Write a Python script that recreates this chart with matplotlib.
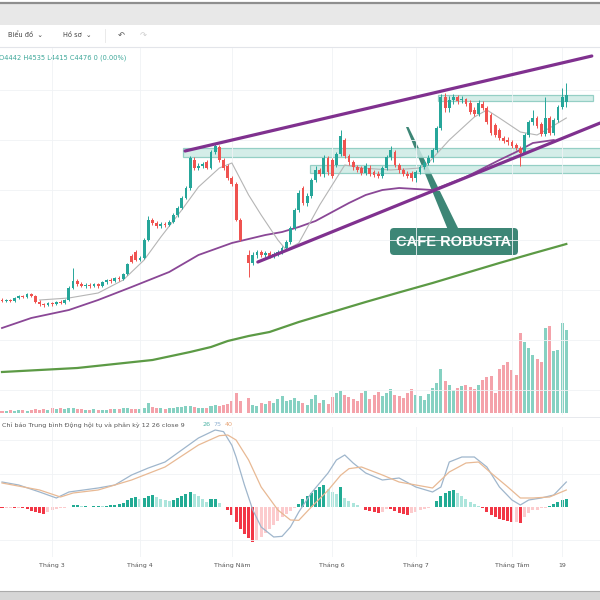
import numpy as np
import matplotlib
matplotlib.use("Agg")
import matplotlib.pyplot as plt
from matplotlib.patches import Rectangle, FancyBboxPatch, Polygon

nan = float("nan")

# daily robusta candles (nan = empty slot)
opens = [3450, 3445, 3450, 3445, 3460, 3470, 3465, 3480, 3470, 3440,
         3430, 3425, 3435, 3430, 3440, 3435, 3450, 3510, 3545, 3530,
         3520, 3525, 3520, 3530, 3520, 3540, 3550, 3545, 3560, 3555,
         3580, 3670, 3690, 3650, 3660, 3750, 3850, 3835, 3820, 3830,
         3825, 3840, 3875, 3910, 3960, 4010, 4150, 4110, 4120, 4140,
         4110, 4190, 4215, 4150, 4120, 4060, 4030, 3850, nan, 3675,
         3635, 3675, 3690, 3675, 3685, 3670, 3680, 3690, 3710, 3740,
         3810, 3900, 4010, 3935, 3970, 4050, 4100, 4080, 4160, 4150,
         4125, 4180, 4250, 4170, 4140, 4115, 4110, 4085, 4110, 4090,
         4080, 4070, 4110, 4165, 4190, 4125, 4100, 4080, 4085, 4060,
         4090, 4115, 4135, 4160, 4200, 4310, 4465, 4410, 4450, 4465,
         4450, 4455, 4435, 4400, 4380, 4430, 4410, 4375, 4325, 4300,
         4260, 4250, 4240, 4225, 4210, 4185, 4275, 4340, 4360, 4330,
         4280, 4360, 4285, 4350, 4415, 4442]
highs = [3460, 3455, 3455, 3465, 3475, 3475, 3485, 3485, 3475, 3450,
         3435, 3440, 3440, 3445, 3450, 3455, 3520, 3610, 3555, 3540,
         3535, 3535, 3535, 3535, 3545, 3555, 3560, 3565, 3570, 3585,
         3635, 3680, 3700, 3670, 3760, 3870, 3860, 3845, 3840, 3840,
         3850, 3885, 3920, 3970, 4020, 4170, 4165, 4135, 4140, 4150,
         4200, 4235, 4225, 4160, 4130, 4070, 4040, 3860, nan, 3700,
         3690, 3700, 3700, 3695, 3695, 3690, 3700, 3720, 3750, 3820,
         3910, 4000, 4020, 3985, 4060, 4120, 4110, 4175, 4170, 4160,
         4190, 4300, 4260, 4180, 4150, 4125, 4120, 4135, 4125, 4100,
         4095, 4120, 4175, 4220, 4200, 4135, 4110, 4095, 4095, 4100,
         4125, 4150, 4175, 4210, 4320, 4480, 4485, 4470, 4480, 4475,
         4470, 4460, 4450, 4415, 4450, 4445, 4420, 4385, 4335, 4310,
         4270, 4265, 4250, 4235, 4220, 4285, 4350, 4400, 4370, 4340,
         4465, 4370, 4360, 4425, 4510, 4535]
lows = [3440, 3440, 3440, 3440, 3455, 3460, 3460, 3465, 3435, 3420,
        3415, 3420, 3420, 3425, 3430, 3430, 3445, 3505, 3520, 3515,
        3510, 3510, 3515, 3510, 3515, 3530, 3535, 3540, 3545, 3550,
        3575, 3635, 3645, 3645, 3655, 3745, 3825, 3810, 3810, 3815,
        3820, 3835, 3865, 3905, 3955, 4000, 4100, 4100, 4110, 4105,
        4105, 4180, 4140, 4100, 4050, 4020, 3845, 3745, nan, 3565,
        3625, 3660, 3665, 3665, 3660, 3660, 3670, 3680, 3700, 3730,
        3800, 3890, 3925, 3920, 3960, 4040, 4070, 4065, 4075, 4060,
        4115, 4170, 4160, 4125, 4100, 4090, 4075, 4075, 4070, 4065,
        4060, 4060, 4100, 4150, 4115, 4085, 4070, 4060, 4045, 4040,
        4080, 4105, 4125, 4140, 4190, 4300, 4390, 4390, 4430, 4430,
        4435, 4420, 4380, 4370, 4370, 4400, 4330, 4275, 4265, 4250,
        4235, 4225, 4210, 4200, 4120, 4180, 4265, 4325, 4310, 4270,
        4270, 4275, 4275, 4340, 4405, 4415]
closes = [3445, 3450, 3445, 3460, 3470, 3465, 3480, 3470, 3440, 3430,
          3425, 3435, 3430, 3440, 3435, 3450, 3510, 3545, 3530, 3520,
          3525, 3520, 3530, 3520, 3540, 3550, 3545, 3560, 3555, 3580,
          3630, 3640, 3650, 3660, 3750, 3850, 3835, 3820, 3830, 3825,
          3840, 3875, 3910, 3960, 4010, 4160, 4110, 4120, 4130, 4110,
          4190, 4220, 4150, 4110, 4060, 4030, 3850, 3750, nan, 3635,
          3675, 3690, 3675, 3685, 3670, 3680, 3690, 3710, 3740, 3810,
          3900, 3985, 3935, 3970, 4050, 4100, 4080, 4160, 4090, 4070,
          4180, 4270, 4170, 4140, 4115, 4100, 4085, 4120, 4080, 4075,
          4070, 4110, 4165, 4200, 4125, 4100, 4080, 4070, 4060, 4090,
          4115, 4135, 4160, 4200, 4310, 4465, 4410, 4450, 4465, 4445,
          4455, 4430, 4390, 4380, 4435, 4410, 4340, 4285, 4275, 4260,
          4245, 4240, 4220, 4210, 4185, 4275, 4340, 4360, 4320, 4280,
          4360, 4285, 4350, 4415, 4465, 4476]
# volume, thousand lots
volumes = [2, 2, 3, 2, 3, 3, 2, 3, 4, 3, 4, 3, 5, 4, 5, 4, 5, 5, 4, 4,
           3, 3, 4, 3, 3, 3, 4, 4, 4, 5, 5, 4, 4, 4, 5, 10, 6, 5, 5, 4,
           5, 5, 6, 6, 7, 7, 6, 5, 5, 5, 7, 8, 7, 8, 9, 12, 20, 12, nan, 15,
           8, 7, 10, 9, 12, 10, 14, 17, 12, 13, 15, 12, 10, 8, 14, 18, 10, 13, 9, 16,
           20, 22, 18, 16, 14, 12, 20, 22, 14, 18, 21, 17, 20, 24, 18, 17, 15, 20, 24, 18,
           17, 13, 19, 25, 30, 44, 32, 28, 23, 25, 27, 28, 26, 24, 28, 33, 36, 37, 20, 44,
           48, 51, 43, 38, 80, 71, 65, 58, 54, 51, 85, 87, 62, 63, 90, 83]
macd_hist = [-3, -1.5, -1.5, -3, -1.5, -3, -6, -12, -15, -18,
             -21, -15, -9, -6, -3, -1.5, 1.5, 6, 6, 3,
             3, 1.5, 3, 4.5, 3, 4.5, 6, 6, 9, 12,
             21, 27, 30, 24, 27, 33, 36, 30, 24, 21,
             18, 21, 27, 33, 39, 45, 39, 33, 24, 15,
             24, 24, 12, 1.5, -9, -24, -45, -66, -81, -93,
             -105, -99, -90, -78, -66, -54, -42, -30, -21, -12,
             -3, 9, 24, 33, 42, 51, 60, 66, 54, 45,
             39, 60, 27, 18, 12, 6, 1.5, -9, -12, -15,
             -18, -15, -4.5, -6, -12, -18, -21, -24, -18, -13.5,
             -9, -6, -3, 1.5, 18, 33, 42, 48, 51, 42,
             33, 24, 15, 9, 3, -1.5, -15, -24, -30, -36,
             -39, -42, -45, -45, -48, -30, -18, -9, -9, -3,
             -1.5, 3, 9, 15, 21, 24]

macd_at = [0, 4, 9, 13, 16, 23, 27, 31, 35, 39, 43, 47, 51, 53, 55, 56, 58, 60, 62, 65,
           67, 69, 71, 74, 78, 80, 82, 84, 87, 91, 95, 99, 103, 105, 107, 110, 113, 116,
           119, 122, 124, 126, 129, 132, 135]
macd_line = [75, 66, 45, 27, 45, 57, 66, 96, 117, 135, 171, 207, 231, 226, 185, 150, 66, -9, -60, -90,
             -88, -60, -15, 42, 102, 141, 156, 132, 102, 81, 87, 60, 45, 60, 135, 150, 150, 120,
             60, 21, 6, 21, 27, 36, 75]
signal_at = [0, 9, 14, 17, 23, 31, 39, 47, 52, 54, 56, 59, 62, 66, 69, 71, 74, 78, 81, 83,
             86, 91, 95, 99, 103, 107, 111, 114, 117, 121, 124, 127, 131, 135]
signal_line = [72, 51, 30, 42, 51, 81, 120, 186, 214, 216, 201, 141, 60, -9, -39, -40, 0, 50, 95, 115,
               120, 96, 75, 66, 57, 105, 132, 135, 102, 60, 27, 27, 30, 51]

# moving averages sampled from the chart
ma_fast_at = [9, 16, 23, 29, 34, 38, 43, 47, 52, 55, 59, 62, 66, 68, 71, 76, 82, 86, 93, 100,
              102, 107, 113, 116, 119, 124, 128, 131, 135]
ma_fast = [3450, 3460, 3485, 3550, 3650, 3765, 3900, 4015, 4110, 4135, 3975, 3875, 3750, 3700, 3735,
           3925, 4125, 4110, 4100, 4110, 4135, 4250, 4365, 4400, 4360, 4290, 4275, 4310, 4360]
ma_mid_at = [0, 7, 16, 23, 31, 40, 47, 55, 63, 67, 71, 75, 79, 83, 87, 91, 95, 103, 111, 119,
             123, 127, 132]
ma_mid = [3310, 3360, 3400, 3450, 3515, 3590, 3675, 3735, 3775, 3790, 3815, 3845, 3890, 3935, 3975,
          4000, 4010, 4000, 4065, 4150, 4190, 4235, 4250]
ma_slow_at = [0, 18, 36, 45, 50, 54, 59, 64, 71, 79, 87, 95, 103, 111, 119, 127, 135]
ma_slow = [3090, 3110, 3150, 3190, 3215, 3245, 3270, 3290, 3340, 3390, 3440, 3488, 3535, 3585, 3635,
           3683, 3730]

channel_top = ([43.8, 141.1], [4195, 4670])
channel_bottom = ([61.2, 143.1], [3640, 4335])
zones = [(43.3, 143.5, 4165, 4210), (73.7, 143.5, 4085, 4125), (104.3, 141.4, 4445, 4475)]

tick_pos = [12, 33, 55, 79, 99, 122, 134]
tick_labels = ["Tháng 3", "Tháng 4", "Tháng Năm", "Tháng 6", "Tháng 7", "Tháng Tám", "19"]

GREEN = "#26a69a"
RED = "#ef5350"

o = np.array(opens, dtype=float)
h = np.array(highs, dtype=float)
l = np.array(lows, dtype=float)
c = np.array(closes, dtype=float)
x = np.arange(len(c))
up = c >= o

fig = plt.figure(figsize=(6, 6), dpi=100)
XLIM = (-0.478, 143.06)


def rect(top, bottom):
    return [0, 1 - bottom / 600, 1, (bottom - top) / 600]


# ---- main pane
ax = fig.add_axes(rect(48, 415))
axv = ax.twinx()
ax.set_zorder(axv.get_zorder() + 1)
ax.patch.set_visible(False)

vol_col = np.where(up, "#86d1c2", "#f4a2aa")
axv.bar(x, volumes, width=0.72, color=vol_col, linewidth=0)
axv.set_ylim(-2, 365)

for x0, x1, lo, hi in zones:
    ax.add_patch(Rectangle((x0, lo), x1 - x0, hi - lo, facecolor="#cdeae5",
                           edgecolor="#86c9bd", lw=0.9, alpha=0.85, zorder=1))

ax.plot(ma_slow_at, ma_slow, color="#5c9a45", lw=1.6, zorder=2)
ax.plot(ma_mid_at, ma_mid, color="#8a4796", lw=1.3, zorder=2)
ax.plot(ma_fast_at, ma_fast, color="#b5b5b5", lw=0.8, zorder=2)
ax.plot(*channel_top, color="#80318f", lw=2.3, zorder=4, solid_capstyle="round")
ax.plot(*channel_bottom, color="#80318f", lw=2.3, zorder=4, solid_capstyle="round")

col = np.where(up, GREEN, RED)
ax.vlines(x, l, h, colors=col, lw=0.7, zorder=3)
ax.bar(x, np.maximum(np.abs(c - o), 3), bottom=np.minimum(o, c), width=0.68,
       color=col, linewidth=0, zorder=3)

ax.set_xlim(*XLIM)
ax.set_ylim(2875, 4710)
ax.set_xticks(tick_pos)
ax.set_yticks(np.arange(3000, 4700, 250))
ax.grid(True, color="#f0f2f5", lw=0.6)
ax.tick_params(length=0, labelbottom=False, labelleft=False)
axv.set_yticks([])
for a in (ax, axv):
    for s in a.spines.values():
        s.set_visible(False)

# ---- MACD pane
am = fig.add_axes(rect(427, 557))
hist = np.array(macd_hist, dtype=float)
prev = np.concatenate([[0.0], hist[:-1]])
hcol = np.where(hist >= 0, np.where(hist >= prev, "#22ab94", "#ace5dc"),
                np.where(hist < prev, "#f23645", "#fccbcd"))
am.bar(x, hist, width=0.72, color=hcol, linewidth=0)
am.plot(macd_at, macd_line, color="#9fb6cc", lw=0.9)
am.plot(signal_at, signal_line, color="#e8b994", lw=0.9)
am.set_xlim(*XLIM)
am.set_ylim(-150, 240)
am.set_xticks(tick_pos)
am.set_xticklabels(tick_labels, fontsize=4.5, color="#555555")
am.set_yticks([-100, 100, 200])
am.grid(True, color="#f0f2f5", lw=0.6)
am.tick_params(length=0, pad=4, labelleft=False)
for s in am.spines.values():
    s.set_visible(False)

# ---- chrome, header texts and callout (pixel overlay)
ov = fig.add_axes([0, 0, 1, 1])
ov.set_xlim(0, 600)
ov.set_ylim(600, 0)
ov.axis("off")

ov.add_patch(Rectangle((0, 3), 600, 22, facecolor="#e8e8e8", edgecolor="none"))
ov.plot([0, 600], [3, 3], color="#8e8e8e", lw=1.6)
ov.plot([0, 600], [47, 47], color="#e3e5ea", lw=0.8)
ov.plot([0, 600], [417, 417], color="#e3e5ea", lw=0.6)
ov.plot([105, 105], [29, 42], color="#e6e6e6", lw=0.6)
ov.add_patch(Rectangle((0, 591), 600, 9, facecolor="#d6d6d6", edgecolor="none"))
ov.plot([0, 600], [591, 591], color="#ababab", lw=0.8)

ov.text(8, 35, "Biểu đồ  ⌄", fontsize=4.8, color="#444444", va="center")
ov.text(63, 35, "Hồ sơ  ⌄", fontsize=4.8, color="#444444", va="center")
ov.text(118, 35, "↶", fontsize=6, color="#555555", va="center")
ov.text(140, 35, "↷", fontsize=6, color="#cccccc", va="center")

ohlc = f"O{opens[-1]} H{highs[-1]} L{lows[-1]} C{closes[-1]} 0 (0.00%)"
ov.text(-1, 58, ohlc, fontsize=4.8, color="#3ea89a", va="center")

ov.text(2, 425, "Chỉ báo Trung bình Động hội tụ và phân kỳ 12 26 close 9",
        fontsize=4.6, color="#555555", va="center")
ov.text(203, 425, "26", fontsize=4.6, color="#4cb3a5", va="center")
ov.text(213, 425, "75", fontsize=4.6, color="#8fb0d0", va="center")
ov.text(225, 425, "40", fontsize=4.6, color="#e8a77a", va="center")

TEAL = "#3d8676"
ov.add_patch(Polygon([(406, 127), (408.5, 127), (459, 230), (448, 230)],
                     closed=True, facecolor=TEAL, edgecolor="none"))
ov.add_patch(FancyBboxPatch((390, 228), 128, 27,
                            boxstyle="round,pad=0,rounding_size=4",
                            facecolor=TEAL, edgecolor="none"))
ov.text(454, 242, "CAFE ROBUSTA", fontsize=10.5, fontweight="bold",
        family="Liberation Sans", color="white", ha="center", va="center")

fig.savefig("out.png", dpi=100)
